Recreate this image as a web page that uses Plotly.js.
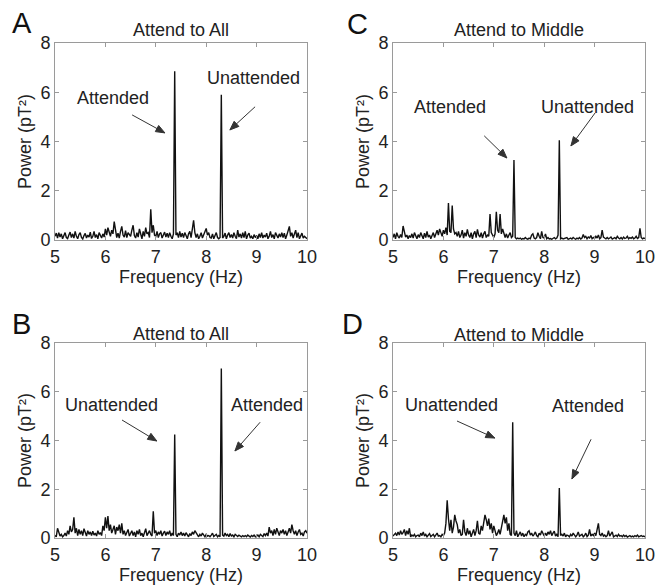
<!DOCTYPE html>
<html>
<head>
<meta charset="utf-8">
<script src="https://cdn.plot.ly/plotly-3.0.1.min.js"></script>
<style>html,body{margin:0;padding:0;background:#fff;}#chart{width:657px;height:587px;}</style>
</head>
<body>
<div id="chart"></div>
<script>
// Frequency grid: start 5 Hz, step 0.025 Hz (201 samples, 5–10 Hz)
const freqStart = 5;
const freqStep = 0.025;

const panelLetters = ["A", "C", "B", "D"];
const panelTitles = ["Attend to All", "Attend to Middle", "Attend to All", "Attend to Middle"];

// Panel A: Attend to All
const powerA = [
0.15,0.28,0.08,0.3,0.12,0.25,0.05,0.22,0.3,0.1,
0.06,0.2,0.32,0.1,0.25,0.08,0.35,0.15,0.05,0.22,
0.3,0.1,0.04,0.18,0.27,0.08,0.2,0.12,0.32,0.06,
0.15,0.35,0.1,0.22,0.05,0.3,0.18,0.08,0.25,0.12,
0.45,0.2,0.5,0.3,0.15,0.4,0.25,0.75,0.3,0.1,
0.28,0.08,0.35,0.55,0.2,0.12,0.38,0.1,0.3,0.22,
0.15,0.4,0.6,0.18,0.08,0.3,0.12,0.45,0.2,0.05,
0.35,0.15,0.5,0.25,0.3,0.1,1.25,0.3,0.6,0.2,
0.15,0.35,0.1,0.25,0.3,0.08,0.2,0.32,0.12,0.28,
0.1,0.3,0.15,0.05,0.25,6.85,0.2,0.3,0.1,0.35,
0.12,0.28,0.1,0.3,0.18,0.05,0.25,0.35,0.1,0.5,
0.8,0.3,0.1,0.25,0.05,0.15,0.3,0.08,0.2,0.35,
0.47,0.2,0.3,0.1,0.08,0.25,0.05,0.18,0.3,0.1,
0.05,0.1,5.9,0.08,0.15,0.28,0.05,0.2,0.3,0.1,
0.22,0.08,0.3,0.15,0.05,0.4,0.12,0.25,0.08,0.3,
0.1,0.35,0.05,0.2,0.28,0.08,0.15,0.05,0.22,0.1,
0.18,0.05,0.25,0.1,0.3,0.08,0.2,0.12,0.28,0.05,
0.15,0.35,0.1,0.22,0.05,0.3,0.18,0.08,0.25,0.12,
0.3,0.1,0.28,0.05,0.2,0.35,0.55,0.15,0.3,0.08,
0.25,0.4,0.1,0.3,0.05,0.2,0.28,0.08,0.15,0.1,
0.05];

// Panel C: Attend to Middle
const powerC = [
0.1,0.25,0.05,0.3,0.15,0.08,0.22,0.1,0.57,0.3,
0.12,0.2,0.05,0.18,0.1,0.25,0.08,0.3,0.12,0.05,
0.22,0.1,0.3,0.15,0.05,0.28,0.1,0.35,0.12,0.2,
0.05,0.18,0.3,0.1,0.25,0.4,0.2,0.45,0.3,0.15,
0.4,0.25,0.5,0.2,1.5,0.35,0.3,1.4,0.45,0.25,
0.3,0.15,0.35,0.1,0.2,0.4,0.08,0.3,0.15,0.43,
0.2,0.1,0.3,0.05,0.25,0.35,0.1,0.43,0.2,0.12,
0.3,0.08,0.25,0.35,0.1,0.2,0.15,1.05,0.3,0.2,
0.1,0.25,1.15,0.4,0.3,1.05,0.25,0.45,0.3,0.1,
0.25,0.08,0.2,0.3,0.1,0.15,3.25,0.1,0.05,0.08,
0.05,0.08,0.03,0.06,0.04,0.1,0.05,0.03,0.08,0.05,
0.2,0.25,0.08,0.05,0.1,0.3,0.15,0.05,0.35,0.1,
0.08,0.25,0.05,0.1,0.04,0.06,0.03,0.08,0.1,0.05,
0.08,0.2,4.05,0.05,0.08,0.04,0.06,0.05,0.1,0.03,
0.05,0.08,0.04,0.1,0.06,0.03,0.08,0.05,0.1,0.04,
0.08,0.22,0.1,0.15,0.05,0.12,0.08,0.18,0.05,0.1,
0.06,0.15,0.08,0.2,0.05,0.1,0.4,0.12,0.08,0.05,
0.1,0.05,0.08,0.12,0.04,0.06,0.1,0.05,0.15,0.08,
0.05,0.1,0.04,0.12,0.06,0.08,0.15,0.05,0.1,0.07,
0.12,0.05,0.08,0.15,0.06,0.1,0.47,0.1,0.05,0.08,
0.06];

// Panel B: Attend to All
const powerB = [
0.1,0.05,0.4,0.2,0.08,0.15,0.05,0.1,0.2,0.08,
0.3,0.15,0.5,0.25,0.35,0.85,0.2,0.4,0.1,0.35,
0.15,0.3,0.1,0.38,0.2,0.08,0.3,0.15,0.25,0.1,
0.28,0.12,0.2,0.08,0.3,0.15,0.22,0.1,0.5,0.3,
0.85,0.4,0.9,0.3,0.55,0.2,0.35,0.5,0.15,0.45,
0.3,0.55,0.2,0.6,0.15,0.3,0.1,0.25,0.35,0.08,
0.2,0.3,0.1,0.25,0.05,0.3,0.15,0.35,0.1,0.2,
0.05,0.25,0.38,0.1,0.2,0.3,0.15,0.08,1.1,0.2,
0.3,0.1,0.25,0.15,0.3,0.08,0.2,0.28,0.1,0.25,
0.15,0.3,0.08,0.2,0.1,4.25,0.15,0.05,0.2,0.12,
0.25,0.1,0.2,0.08,0.22,0.15,0.05,0.18,0.1,0.25,
0.15,0.3,0.2,0.1,0.05,0.15,0.08,0.2,0.12,0.05,
0.15,0.08,0.1,0.05,0.12,0.2,0.06,0.1,0.15,0.05,
0.1,0.05,6.95,0.12,0.08,0.2,0.1,0.15,0.05,0.18,
0.08,0.12,0.05,0.15,0.1,0.06,0.12,0.08,0.05,0.1,
0.06,0.1,0.05,0.12,0.08,0.04,0.1,0.06,0.12,0.05,
0.08,0.12,0.05,0.15,0.1,0.06,0.18,0.1,0.2,0.08,
0.45,0.2,0.3,0.1,0.35,0.15,0.4,0.25,0.1,0.3,
0.2,0.35,0.15,0.3,0.1,0.25,0.4,0.2,0.55,0.3,
0.15,0.3,0.1,0.25,0.35,0.15,0.2,0.08,0.25,0.3,
0.2];

// Panel D: Attend to Middle
const powerD = [
0.08,0.15,0.2,0.1,0.25,0.12,0.3,0.15,0.22,0.35,
0.1,0.3,0.15,0.4,0.05,0.12,0.08,0.15,0.05,0.1,
0.12,0.05,0.2,0.1,0.25,0.08,0.15,0.05,0.12,0.18,
0.06,0.1,0.15,0.05,0.12,0.2,0.08,0.1,0.05,0.15,
0.1,0.2,0.6,1.55,0.8,0.3,0.75,0.2,0.45,0.95,
0.7,0.55,0.2,0.35,0.1,0.15,0.75,0.25,0.1,0.4,
0.15,0.3,0.05,0.2,0.35,0.1,0.3,0.7,0.2,0.15,
0.5,0.3,0.6,0.95,0.75,0.5,0.8,0.35,0.6,0.2,
0.5,0.25,0.1,0.2,0.35,0.15,0.4,0.7,0.95,0.6,
0.85,0.3,0.6,0.15,0.1,4.75,0.2,0.1,0.3,0.05,
0.15,0.25,0.08,0.2,0.05,0.15,0.1,0.25,0.3,0.12,
0.2,0.08,0.15,0.25,0.1,0.05,0.2,0.12,0.3,0.15,
0.08,0.2,0.1,0.25,0.15,0.3,0.1,0.2,0.28,0.08,
0.15,0.05,2.05,0.1,0.15,0.08,0.2,0.05,0.12,0.1,
0.05,0.15,0.08,0.2,0.1,0.05,0.12,0.25,0.08,0.1,
0.15,0.05,0.1,0.2,0.06,0.12,0.35,0.08,0.15,0.1,
0.2,0.1,0.35,0.6,0.15,0.1,0.2,0.08,0.12,0.05,
0.1,0.3,0.08,0.15,0.25,0.05,0.1,0.12,0.06,0.15,
0.08,0.1,0.05,0.12,0.06,0.1,0.04,0.08,0.1,0.05,
0.08,0.05,0.1,0.06,0.12,0.05,0.08,0.1,0.06,0.08,
0.05];

const xTicks = [5, 6, 7, 8, 9, 10];
const yTicks = [0, 2, 4, 6, 8];

// Label annotations: [text, textX, textY, tailX, tailY, headX, headY]
const labelA = [["Attended", 6.15, 5.77, 6.53, 5.08, 7.18, 4.35], ["Unattended", 8.93, 6.58, 8.97, 5.41, 8.47, 4.47]];
const labelC = [["Attended", 6.13, 5.4, 6.81, 4.23, 7.26, 3.33], ["Unattended", 8.85, 5.4, 9.01, 5.16, 8.53, 3.82]];
const labelB = [["Unattended", 6.13, 5.45, 6.33, 4.84, 7.02, 3.98], ["Attended", 9.2, 5.45, 9.07, 4.75, 8.57, 3.57]];
const labelD = [["Unattended", 6.17, 5.45, 6.27, 4.8, 7.02, 4.1], ["Attended", 8.87, 5.4, 8.93, 4.05, 8.55, 2.42]];

const series = [powerA, powerC, powerB, powerD];
const labels = [labelA, labelC, labelB, labelD];

const W = 657, H = 587;
const font = "Liberation Sans, Arial, Helvetica, sans-serif";
const txt = "#222";
// pixel boxes [left, right, top, bottom]
const boxes = [[55, 307, 43, 240], [393, 645, 43, 240], [55, 307, 343, 538], [393, 645, 343, 538]];
const letterPos = [[22, 23], [357, 24], [21, 324], [352, 324]];
const titleY = [30, 30, 334, 335];

const traces = [];
const layout = {
  width: W, height: H,
  margin: {l: 0, r: 0, t: 0, b: 0},
  paper_bgcolor: "#fff", plot_bgcolor: "#fff",
  showlegend: false,
  font: {family: font, color: txt, size: 18},
  annotations: [],
  shapes: []
};

series.forEach((ys, i) => {
  const n = i === 0 ? "" : String(i + 1);
  const b = boxes[i];
  const xr = "x" + n, yr = "y" + n;
  traces.push({
    type: "scatter", mode: "lines",
    x0: freqStart, dx: freqStep, y: ys,
    xaxis: xr, yaxis: yr,
    line: {color: "#111", width: 1.4},
    hoverinfo: "skip"
  });
  const axCommon = {
    showgrid: false, zeroline: false, showline: true, mirror: "ticks",
    linecolor: "#9a9a9a", linewidth: 1, ticks: "inside", ticklen: 4, tickcolor: "#9a9a9a",
    tickfont: {family: font, size: 18, color: txt}
  };
  layout["xaxis" + n] = Object.assign({}, axCommon, {
    domain: [b[0] / W, b[1] / W], range: [5, 10], tickvals: xTicks,
    anchor: yr,
    title: {text: "Frequency (Hz)", font: {family: font, size: 18, color: txt}, standoff: 0}
  });
  layout["yaxis" + n] = Object.assign({}, axCommon, {
    domain: [1 - b[3] / H, 1 - b[2] / H], range: [0, 8], tickvals: yTicks,
    anchor: xr,
    title: {text: "Power (pT²)", font: {family: font, size: 18, color: txt}, standoff: 4}
  });
  layout.annotations.push({
    xref: "paper", yref: "paper", x: (b[0] + b[1]) / 2 / W, y: 1 - titleY[i] / H,
    text: panelTitles[i], showarrow: false, xanchor: "center", yanchor: "middle",
    font: {family: font, size: 18, color: txt}
  });
  layout.annotations.push({
    xref: "paper", yref: "paper", x: letterPos[i][0] / W, y: 1 - letterPos[i][1] / H,
    text: panelLetters[i], showarrow: false, xanchor: "center", yanchor: "middle",
    font: {family: font, size: 29, color: "#111"}
  });
  // pixel scale for arrow heads
  const sx = (b[1] - b[0]) / 5, sy = (b[3] - b[2]) / 8;
  labels[i].forEach(l => {
    layout.annotations.push({
      xref: xr, yref: yr, x: l[1], y: l[2], text: l[0], showarrow: false,
      xanchor: "center", yanchor: "middle", font: {family: font, size: 18, color: txt}
    });
    layout.shapes.push({
      type: "line", xref: xr, yref: yr, x0: l[3], y0: l[4], x1: l[5], y1: l[6],
      line: {color: "#333", width: 1}
    });
    const vx = (l[3] - l[5]) * sx, vy = (l[4] - l[6]) * sy;
    const len = Math.hypot(vx, vy);
    const ux = vx / len, uy = vy / len;
    const L = 9, w = 3.5;
    const p1 = [L * ux - w * uy, L * uy + w * ux];
    const p2 = [L * ux + w * uy, L * uy - w * ux];
    layout.shapes.push({
      type: "path", xref: xr, yref: yr, xsizemode: "pixel", ysizemode: "pixel",
      xanchor: l[5], yanchor: l[6],
      path: "M0,0 L" + p1[0].toFixed(2) + "," + p1[1].toFixed(2) + " L" + p2[0].toFixed(2) + "," + p2[1].toFixed(2) + " Z",
      fillcolor: "#333", line: {color: "#333", width: 1}
    });
  });
});

Plotly.newPlot("chart", traces, layout, {staticPlot: true, displayModeBar: false});
</script>
</body>
</html>
